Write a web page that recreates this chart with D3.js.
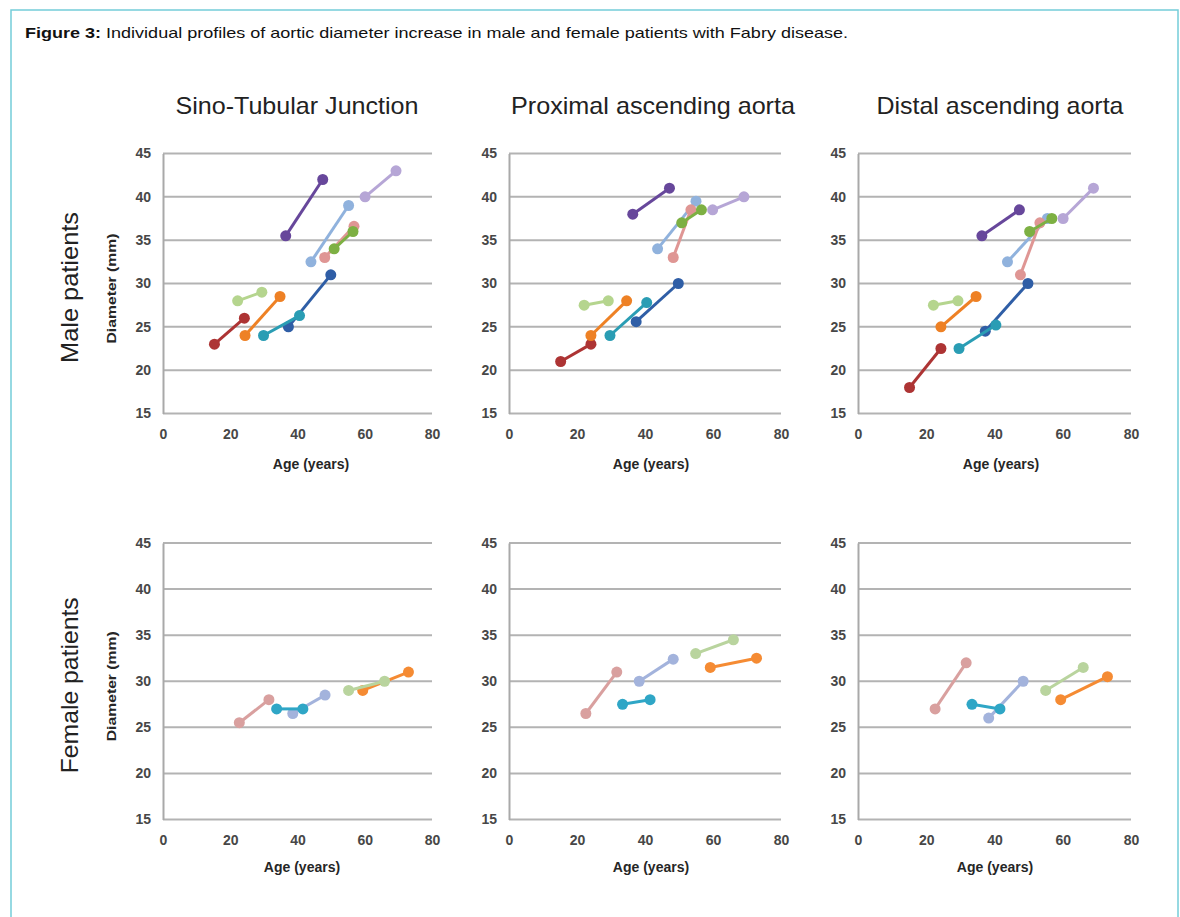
<!DOCTYPE html>
<html>
<head>
<meta charset="utf-8">
<script src="https://cdn.jsdelivr.net/npm/d3@7/dist/d3.min.js"></script>
<style>
  body { margin: 0; background: #fff; }
  svg { font-family: "Liberation Sans", Arial, sans-serif; }
  .grid line { stroke: #b3b3b3; stroke-width: 2px; }
  .axis .domain { stroke: #a9a9a9; stroke-width: 2px; }
  .axis text { font-size: 14px; font-weight: bold; fill: #474747; }
  .xlab, .ylab { font-size: 14px; font-weight: bold; fill: #262626; }
  .ptitle, .rowlab { font-size: 24px; fill: #222; }
</style>
</head>
<body>
<script>

// ---- data ----
var ageTicks = [0, 20, 40, 60, 80];
var diaTicks = [15, 20, 25, 30, 35, 40, 45];
var panelTitles = ["Sino-Tubular Junction", "Proximal ascending aorta", "Distal ascending aorta"];
var rowLabels = ["Male patients", "Female patients"];

// male patients, in drawing order
var maleColors = ["#2f5ea6", "#ad3434", "#67479b", "#2a9db4", "#ee8125",
                  "#90b2dd", "#df9694", "#7db043", "#b5d58e", "#b6a6d6"];
// each patient: [[age, diameter], [age, diameter]]
var maleSTJ = [
  [[37.3, 25], [49.9, 31]],
  [[15.3, 23], [24.2, 26]],
  [[36.5, 35.5], [47.5, 42]],
  [[29.9, 24], [40.6, 26.3]],
  [[24.4, 24], [34.8, 28.5]],
  [[44.0, 32.5], [55.2, 39]],
  [[48.1, 33], [56.8, 36.6]],
  [[50.9, 34], [56.5, 36]],
  [[22.2, 28], [29.4, 29]],
  [[60.1, 40], [69.3, 43]]
];
var maleProx = [
  [[37.4, 25.6], [49.8, 30]],
  [[15.2, 21], [24.1, 23]],
  [[36.4, 38], [47.2, 41]],
  [[29.7, 24], [40.5, 27.8]],
  [[24.1, 24], [34.6, 28]],
  [[43.7, 34], [55.0, 39.5]],
  [[48.3, 33], [53.5, 38.5]],
  [[50.8, 37], [56.6, 38.5]],
  [[22.1, 27.5], [29.2, 28]],
  [[59.9, 38.5], [69.1, 40]]
];
var maleDist = [
  [[37.3, 24.5], [49.8, 30]],
  [[15.1, 18], [24.3, 22.5]],
  [[36.3, 35.5], [47.3, 38.5]],
  [[29.6, 22.5], [40.4, 25.2]],
  [[24.3, 25], [34.6, 28.5]],
  [[43.8, 32.5], [55.5, 37.5]],
  [[47.6, 31], [53.3, 37]],
  [[50.3, 36], [56.8, 37.5]],
  [[22.1, 27.5], [29.3, 28]],
  [[60.1, 37.5], [69.0, 41]]
];

// female patients, in drawing order
var femaleColors = ["#d9a09f", "#a3b3dc", "#2fa6c6", "#f58b33", "#b9d49e"];
var femaleSTJ = [
  [[22.7, 25.5], [31.5, 28]],
  [[38.6, 26.5], [48.2, 28.5]],
  [[33.8, 27], [41.6, 27]],
  [[59.4, 29], [73.0, 31]],
  [[55.2, 29], [65.9, 30]]
];
var femaleProx = [
  [[22.6, 26.5], [31.7, 31]],
  [[38.3, 30], [48.3, 32.4]],
  [[33.4, 27.5], [41.5, 28]],
  [[59.2, 31.5], [72.8, 32.5]],
  [[54.9, 33], [66.0, 34.5]]
];
var femaleDist = [
  [[22.6, 27], [31.7, 32]],
  [[38.3, 26], [48.4, 30]],
  [[33.4, 27.5], [41.6, 27]],
  [[59.4, 28], [73.1, 30.5]],
  [[55.0, 29], [66.0, 31.5]]
];

// ---- layout ----
var width = 1180, height = 917;
var cols = [
  {x0: 163, x1: 432, title: 297, tw: 243},
  {x0: 509, x1: 781, title: 653, tw: 284},
  {x0: 858, x1: 1131, title: 1000, tw: 247}
];
var rows = [
  {y0: 153.5, y1: 413.5, ageDy: 55, ageX: [311, 651, 1001], lw: 151},
  {y0: 543, y1: 819.5, ageDy: 52, ageX: [302, 651, 995], lw: 176}
];

var svg = d3.select("body").append("svg")
    .attr("width", width)
    .attr("height", height);

// outer frame
svg.append("rect")
    .attr("x", 11).attr("y", 10)
    .attr("width", 1167).attr("height", 930)
    .attr("fill", "none")
    .attr("stroke", "#74cdd9")
    .attr("stroke-width", 1.5);

var cap = svg.append("text").attr("x", 25).attr("y", 38)
    .style("font-size", "15px").style("fill", "#111");
cap.append("tspan").style("font-weight", "bold").text("Figure 3:");
cap.append("tspan").text(" Individual profiles of aortic diameter increase in male and female patients with Fabry disease.");
cap.attr("textLength", 823).attr("lengthAdjust", "spacingAndGlyphs");

// column titles
svg.selectAll(".ptitle").data(cols).join("text")
    .attr("class", "ptitle")
    .attr("x", function(c) { return c.title; })
    .attr("y", 114)
    .attr("text-anchor", "middle")
    .attr("textLength", function(c) { return c.tw; })
    .attr("lengthAdjust", "spacingAndGlyphs")
    .text(function(c, i) { return panelTitles[i]; });

var panel = function(data, colors, ci, ri) {
    var col = cols[ci], row = rows[ri];
    var x = d3.scaleLinear().domain([0, 80]).range([col.x0, col.x1]);
    var y = d3.scaleLinear().domain([15, 45]).range([row.y1, row.y0]);

    svg.append("g").attr("class", "grid")
      .selectAll("line").data(diaTicks).join("line")
      .attr("x1", col.x0).attr("x2", col.x1)
      .attr("y1", y).attr("y2", y);

    svg.append("g").attr("class", "axis")
      .attr("transform", "translate(" + col.x0 + ",0)")
      .call(d3.axisLeft(y).tickValues(diaTicks).tickSize(0).tickPadding(12));

    var xa = svg.append("g").attr("class", "axis")
      .attr("transform", "translate(0," + row.y1 + ")")
      .call(d3.axisBottom(x).tickValues(ageTicks).tickSize(0).tickPadding(16));
    xa.select(".domain").remove();

    svg.append("text").attr("class", "xlab")
      .attr("x", row.ageX[ci]).attr("y", row.y1 + row.ageDy)
      .attr("text-anchor", "middle")
      .text("Age (years)");

    var line = d3.line().x(function(d) { return x(d[0]); }).y(function(d) { return y(d[1]); });

    var pat = svg.append("g").selectAll("g").data(data).join("g");
    pat.append("path")
      .attr("d", line)
      .attr("fill", "none")
      .attr("stroke", function(d, i) { return colors[i]; })
      .attr("stroke-width", 3);
    pat.each(function(d, i) {
      d3.select(this).selectAll("circle").data(d).join("circle")
        .attr("cx", function(p) { return x(p[0]); })
        .attr("cy", function(p) { return y(p[1]); })
        .attr("r", 5.5)
        .attr("fill", colors[i]);
    });

    if (ci == 0) {
      var mid = (row.y0 + row.y1) / 2;
      svg.append("text").attr("class", "ylab")
        .attr("transform", "translate(116," + (mid + 5) + ") rotate(-90)")
        .attr("text-anchor", "middle")
        .style("font-size", "13px")
        .attr("textLength", 110)
        .attr("lengthAdjust", "spacingAndGlyphs")
        .text("Diameter (mm)");
      svg.append("text").attr("class", "rowlab")
        .attr("transform", "translate(78," + (mid + 4) + ") rotate(-90)")
        .attr("text-anchor", "middle")
        .attr("textLength", row.lw)
        .attr("lengthAdjust", "spacingAndGlyphs")
        .text(rowLabels[ri]);
    }
}

panel(maleSTJ, maleColors, 0, 0);
panel(maleProx, maleColors, 1, 0);
panel(maleDist, maleColors, 2, 0);
panel(femaleSTJ, femaleColors, 0, 1);
panel(femaleProx, femaleColors, 1, 1);
panel(femaleDist, femaleColors, 2, 1);

</script>
</body>
</html>
